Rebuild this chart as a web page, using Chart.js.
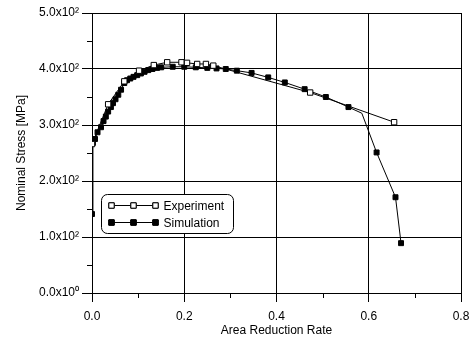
<!DOCTYPE html>
<html>
<head>
<meta charset="utf-8">
<script src="https://cdn.jsdelivr.net/npm/chart.js@4.4.1/dist/chart.umd.min.js"></script>
<style>
  html, body { margin: 0; padding: 0; background: #fff; }
</style>
</head>
<body>
<canvas id="stressChart" width="474" height="338"></canvas>
<script>
// tensile test: nominal stress against area reduction rate
const expX = [0, 0.035, 0.070, 0.102, 0.134, 0.163, 0.194, 0.206, 0.228, 0.247, 0.263, 0.473, 0.655];
const expY = [266, 337, 378, 397, 407, 412, 412, 411, 409, 409, 406, 358, 305];

const simX = [0, 0.002, 0.0065, 0.012, 0.0195, 0.025, 0.030, 0.035, 0.041, 0.0455, 0.051, 0.057, 0.063,
  0.070, 0.076, 0.083, 0.090, 0.098, 0.106, 0.114, 0.122, 0.131, 0.141, 0.150, 0.175, 0.200, 0.225,
  0.250, 0.270, 0.290, 0.314, 0.346, 0.382, 0.418, 0.461, 0.507, 0.556, 0.585, 0.617, 0.658, 0.670];
const simY = [141, 268, 275, 287, 296, 307, 315, 324, 332, 339, 346, 354, 363,
  375, 380, 383, 386, 389, 392, 395, 398, 400, 402, 403, 404, 404, 403,
  402, 401, 400, 397, 393, 385, 376, 364, 350, 332, 321, 251, 171, 89];
// 1 = vertex carries a symbol, 0 = line vertex only
const simMarker = [1, 1, 1, 1, 1, 1, 1, 1, 1, 1, 1, 1, 1,
  1, 1, 1, 1, 1, 1, 1, 1, 1, 1, 1, 1, 1, 1,
  1, 1, 1, 1, 1, 1, 1, 1, 1, 1, 0, 1, 1, 1];

const xTicks = [0, 0.2, 0.4, 0.6, 0.8];
const xMinor = [0.1, 0.3, 0.5, 0.7];
const yTicks = [0, 100, 200, 300, 400, 500];
const yMinor = [50, 150, 250, 350, 450];
const yTickLabels = ['0.0x10\u2070', '1.0x10\u00b2', '2.0x10\u00b2', '3.0x10\u00b2', '4.0x10\u00b2', '5.0x10\u00b2'];

const FONT = 'Liberation Sans, Arial, sans-serif';

function toPoints(xs, ys) {
  return xs.map((x, i) => ({ x: x, y: ys[i] }));
}

// short outward ticks between the labelled ones
const minorTicks = {
  id: 'minorTicks',
  afterDraw(chart) {
    const ctx = chart.ctx;
    const xs = chart.scales.x, ys = chart.scales.y;
    const area = chart.chartArea;
    ctx.save();
    ctx.strokeStyle = '#000';
    ctx.lineWidth = 1;
    ctx.beginPath();
    xMinor.forEach(v => {
      const px = Math.round(xs.getPixelForValue(v)) + 0.5;
      ctx.moveTo(px, area.bottom);
      ctx.lineTo(px, area.bottom + 5);
    });
    yMinor.forEach(v => {
      const py = Math.round(ys.getPixelForValue(v)) + 0.5;
      ctx.moveTo(area.left - 5, py);
      ctx.lineTo(area.left, py);
    });
    ctx.stroke();
    ctx.restore();
  }
};

// boxed legend sitting inside the plot
const boxLegend = {
  id: 'boxLegend',
  afterDraw(chart) {
    const ctx = chart.ctx;
    const area = chart.chartArea;
    const left = area.left + 9.5, top = area.top + 181.5;
    const w = 132, h = 39, r = 6;
    ctx.save();
    ctx.fillStyle = '#fff';
    ctx.strokeStyle = '#000';
    ctx.lineWidth = 1;
    ctx.beginPath();
    ctx.roundRect(left, top, w, h, r);
    ctx.fill();
    ctx.stroke();

    chart.data.datasets.forEach((ds, i) => {
      const y = Math.round(top + 10 + i * 17.5) + 0.5;
      const x0 = left + 9, x1 = left + 53;
      ctx.strokeStyle = ds.borderColor;
      ctx.lineWidth = 1;
      ctx.beginPath();
      ctx.moveTo(x0, y);
      ctx.lineTo(x1, y);
      ctx.stroke();
      [x0, (x0 + x1) / 2, x1].forEach(px => {
        Chart.helpers.drawPoint(ctx, {
          pointStyle: 'rect', radius: 3.8, borderWidth: 1
        }, Math.round(px) + 0.5, y);
        ctx.fillStyle = ds.pointBackgroundColor;
        ctx.fill();
        ctx.stroke();
      });
      ctx.fillStyle = '#000';
      ctx.font = '12px ' + FONT;
      ctx.textBaseline = 'middle';
      ctx.textAlign = 'left';
      ctx.fillText(ds.label, left + 62, y + 1);
    });
    ctx.restore();
  }
};

new Chart(document.getElementById('stressChart'), {
  type: 'line',
  data: {
    datasets: [{
      label: 'Experiment',
      data: toPoints(expX, expY),
      borderColor: '#000',
      borderWidth: 1,
      pointStyle: 'rect',
      pointRadius: 3.8,
      pointBorderWidth: 1,
      pointBackgroundColor: '#fff',
      pointBorderColor: '#000',
      tension: 0
    }, {
      label: 'Simulation',
      data: toPoints(simX, simY),
      borderColor: '#000',
      borderWidth: 1,
      pointStyle: 'rect',
      pointRadius: simMarker.map(m => m ? 3.5 : 0),
      pointBorderWidth: 1,
      pointBackgroundColor: '#000',
      pointBorderColor: '#000',
      tension: 0
    }]
  },
  options: {
    responsive: false,
    animation: false,
    events: [],
    layout: { padding: { top: 13, right: 13, left: 0, bottom: 0 } },
    plugins: {
      legend: { display: false },
      tooltip: { enabled: false }
    },
    scales: {
      x: {
        type: 'linear',
        min: 0,
        max: 0.8,
        afterBuildTicks: s => { s.ticks = xTicks.map(v => ({ value: v })); },
        afterFit: s => {
          s.height = 45;
          s.paddingLeft = 0;
          s.paddingRight = 0;
        },
        ticks: {
          color: '#000',
          padding: 7,
          font: { family: FONT, size: 12 },
          callback: v => v.toFixed(1)
        },
        grid: { color: '#000', lineWidth: 1, tickLength: 9 },
        border: { color: '#000', width: 1 },
        title: {
          display: true,
          text: 'Area Reduction Rate',
          color: '#000',
          font: { family: FONT, size: 12 },
          padding: { top: 0, bottom: 0 }
        }
      },
      y: {
        type: 'linear',
        min: 0,
        max: 500,
        afterBuildTicks: s => { s.ticks = yTicks.map(v => ({ value: v })); },
        afterFit: s => { s.width = 92; },
        ticks: {
          color: '#000',
          padding: 3,
          font: { family: FONT, size: 12 },
          callback: (v, i) => yTickLabels[i]
        },
        grid: { color: '#000', lineWidth: 1, tickLength: 10 },
        border: { color: '#000', width: 1 },
        title: {
          display: true,
          text: 'Nominal Stress [MPa]',
          color: '#000',
          font: { family: FONT, size: 12 },
          padding: { top: 14, bottom: 0 }
        }
      }
    }
  },
  plugins: [minorTicks, boxLegend]
});
</script>
</body>
</html>
